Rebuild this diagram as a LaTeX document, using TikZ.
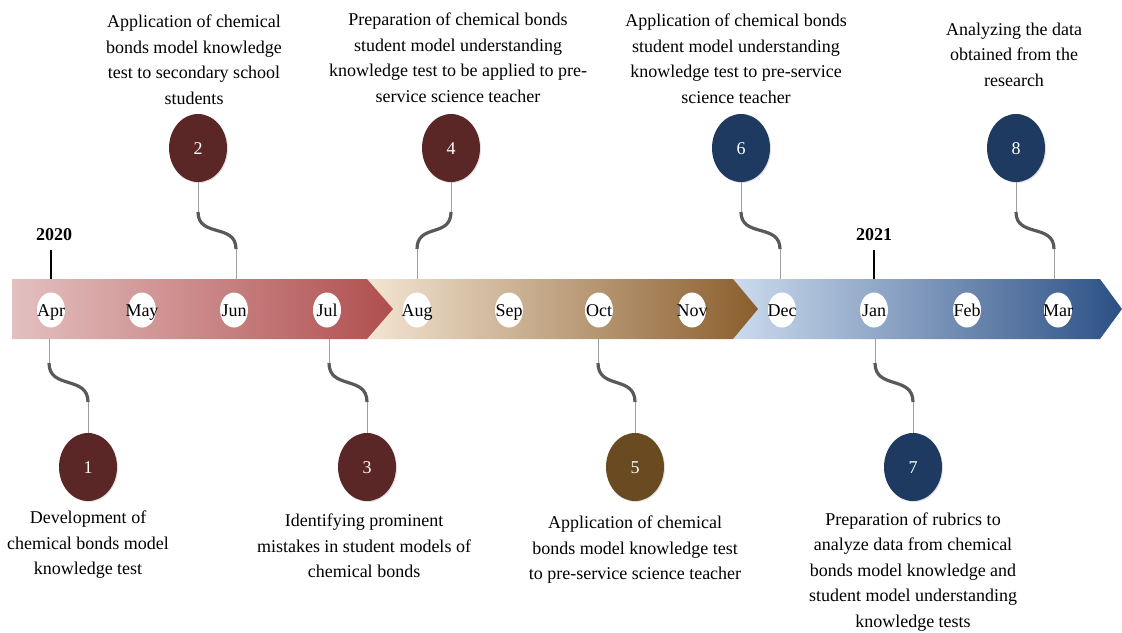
\documentclass[tikz,border=0pt]{standalone}
\usepackage{fontspec}
\setmainfont{Liberation Serif}
\usetikzlibrary{shapes.geometric,shadows}
\definecolor{cMaroon}{HTML}{5A2626}
\definecolor{cBrown}{HTML}{6A4A20}
\definecolor{cNavy}{HTML}{1F3A60}
\definecolor{bOneL}{HTML}{E4C0C0}
\definecolor{bOneR}{HTML}{B04E4E}
\definecolor{bTwoL}{HTML}{F3E5D3}
\definecolor{bTwoR}{HTML}{8A5E2C}
\definecolor{bThrL}{HTML}{CCDBEE}
\definecolor{bThrR}{HTML}{2C5085}
\begin{document}
\begin{tikzpicture}[x=1pt,y=-1pt,
  month/.style={ellipse, fill=white, minimum width=28pt, minimum height=35pt, inner sep=0pt,
    text height=12pt, text depth=0pt, font=\fontsize{18}{22}\selectfont},
  numc/.style={ellipse, minimum width=58pt, minimum height=68pt, inner sep=0pt,
    text=white, text height=12pt, text depth=0pt, font=\fontsize{18}{22}\selectfont,
    drop shadow={opacity=0.25, shadow xshift=1pt, shadow yshift=-1pt}},
  desc/.style={align=center, inner sep=0pt, anchor=north, font=\fontsize{18}{25.5}\selectfont},
  thinline/.style={draw=gray!75, line width=0.9pt},
  sline/.style={draw=black!65, line width=3.2pt},
  yearlbl/.style={inner sep=0pt, font=\bfseries\fontsize{18}{22}\selectfont},
  ytick/.style={draw=black, line width=1.8pt}]
\useasboundingbox (0,0) rectangle (1122,632);

% bands
\shade[left color=bThrL, right color=bThrR] (733,279) -- (1100,279) -- (1122,309) -- (1100,339) -- (733,339) -- cycle;
\shade[left color=bTwoL, right color=bTwoR] (367,279) -- (733,279) -- (758,309) -- (733,339) -- (367,339) -- cycle;
\shade[left color=bOneL, right color=bOneR] (12,279) -- (367,279) -- (393,309) -- (367,339) -- (12,339) -- cycle;

% months
\node[month] (apr) at (51,310) {\makebox[0pt]{Apr}};
\node[month] (may) at (142,310) {\makebox[0pt]{May}};
\node[month] (jun) at (234,310) {\makebox[0pt]{Jun}};
\node[month] (jul) at (327,310) {\makebox[0pt]{Jul}};
\node[month] (aug) at (417,310) {\makebox[0pt]{Aug}};
\node[month] (sep) at (509,310) {\makebox[0pt]{Sep}};
\node[month] (oct) at (599,310) {\makebox[0pt]{Oct}};
\node[month] (nov) at (692,310) {\makebox[0pt]{Nov}};
\node[month] (dec) at (782,310) {\makebox[0pt]{Dec}};
\node[month] (jan) at (874,310) {\makebox[0pt]{Jan}};
\node[month] (feb) at (967,310) {\makebox[0pt]{Feb}};
\node[month] (mar) at (1058,310) {\makebox[0pt]{Mar}};

% years
\node[yearlbl] (y20) at (54,235) {2020};
\node[yearlbl] (y21) at (874,235) {2021};
\coordinate (t20a) at (51,250); \coordinate (t20b) at (51,279);
\coordinate (t21a) at (874,250); \coordinate (t21b) at (874,279);
\draw[ytick] (t20a) -- (t20b);
\draw[ytick] (t21a) -- (t21b);

% numbered circles
\node[numc, fill=cMaroon] (c1) at (88,467) {1};
\node[numc, fill=cMaroon] (c2) at (198,148) {2};
\node[numc, fill=cMaroon] (c3) at (367,467) {3};
\node[numc, fill=cMaroon] (c4) at (451,148) {4};
\node[numc, fill=cBrown]  (c5) at (635,467) {5};
\node[numc, fill=cNavy]   (c6) at (741,148) {6};
\node[numc, fill=cNavy]   (c7) at (913,467) {7};
\node[numc, fill=cNavy]   (c8) at (1016,148) {8};

% connectors top (circle -> band)
\foreach \n/\xa/\xb in {2/198/236, 4/451/417, 6/741/780, 8/1016/1054}{
  \coordinate (s\n a) at (\xa,212);
  \coordinate (s\n b) at (\xb,249);
  \coordinate (b\n) at (\xb,279);
  \draw[thinline] (c\n.south) -- (s\n a);
  \draw[sline] (s\n a) .. controls (\xa,238) and (\xb,223) .. (s\n b);
  \draw[thinline] (s\n b) -- (b\n);
}
% connectors bottom (band -> circle)
\foreach \n/\xa/\xb in {1/49/88, 3/329/367, 5/598/635, 7/875/913}{
  \coordinate (b\n) at (\xa,339);
  \coordinate (s\n a) at (\xa,363);
  \coordinate (s\n b) at (\xb,402);
  \draw[thinline] (b\n) -- (s\n a);
  \draw[sline] (s\n a) .. controls (\xa,390) and (\xb,375) .. (s\n b);
  \draw[thinline] (s\n b) -- (c\n.north);
}

% descriptions
\node[desc] (d2) at (194,14.7) {Application of chemical\\bonds model knowledge\\test to secondary school\\students};
\node[desc] (d4) at (458,12.7) {Preparation of chemical bonds\\student model understanding\\knowledge test to be applied to pre-\\service science teacher};
\node[desc] (d6) at (736,13.7) {Application of chemical bonds\\student model understanding\\knowledge test to pre-service\\science teacher};
\node[desc] (d8) at (1014,22.7) {Analyzing the data\\obtained from the\\research};
\node[desc] (d1) at (88,510.7) {Development of\\chemical bonds model\\knowledge test};
\node[desc] (d3) at (364,513.7) {Identifying prominent\\mistakes in student models of\\chemical bonds};
\node[desc] (d5) at (635,515.7) {Application of chemical\\bonds model knowledge test\\to pre-service science teacher};
\node[desc] (d7) at (913,512.2) {Preparation of rubrics to\\analyze data from chemical\\bonds model knowledge and\\student model understanding\\knowledge tests};
\end{tikzpicture}
\end{document}
